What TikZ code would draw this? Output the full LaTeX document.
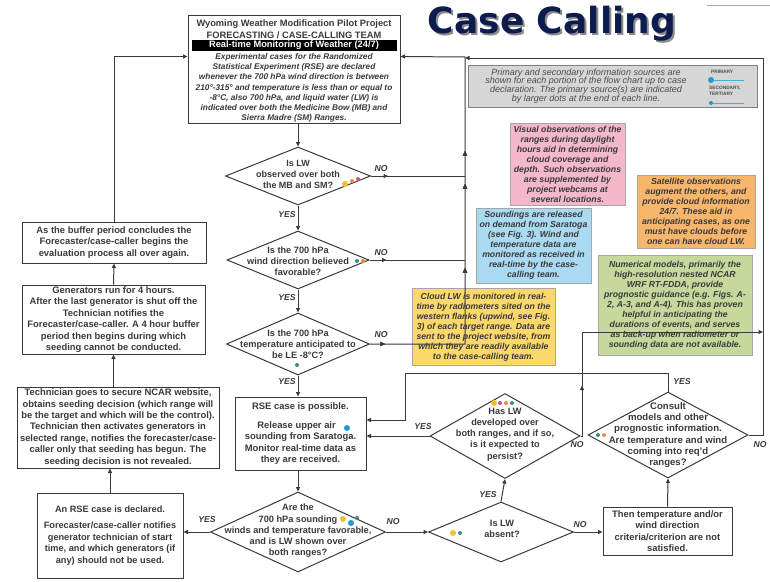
\documentclass[tikz,border=0pt]{standalone}
\usepackage{fontspec}
\setmainfont{Liberation Sans}
\newfontfamily\titlefont{DejaVu Sans}
\usetikzlibrary{shapes.geometric,arrows.meta,calc,decorations.markings}
\pgfdeclarelayer{bg}
\pgfsetlayers{bg,main}
\definecolor{ink}{HTML}{3A3A3A}
\definecolor{navy}{HTML}{0D1C4E}
\definecolor{lpink}{HTML}{D94C86}
\definecolor{lyel}{HTML}{EFD766}
\definecolor{dyel}{HTML}{F2C12E}
\definecolor{lora}{HTML}{E3A36E}
\definecolor{dora}{HTML}{EE8A3A}
\definecolor{lblu}{HTML}{45AEDB}
\definecolor{dblu}{HTML}{1E9AD6}
\definecolor{lgrn}{HTML}{6E9E98}
\definecolor{dgrn}{HTML}{3C8C80}
\definecolor{fpink}{HTML}{F4B8CB}
\definecolor{fblu}{HTML}{A9DAF2}
\definecolor{fora}{HTML}{F8B56C}
\definecolor{fgrn}{HTML}{C8D89C}
\definecolor{fyel}{HTML}{FBD86C}
\definecolor{fleg}{HTML}{D6D6D6}
\tikzset{
  every node/.style={font=\fontsize{9.4}{11.4}\selectfont\bfseries, text=ink, align=center, inner sep=0pt},
  flowbox/.style={draw=ink, line width=1pt, fill=white},
  infobox/.style={draw=black!35, line width=0.8pt, font=\fontsize{8.7}{10}\selectfont\bfseries\itshape},
  dia/.style={diamond, draw=ink, line width=1pt},
  dtext/.style={font=\fontsize{9.2}{11.2}\selectfont\bfseries},
  lab/.style={font=\fontsize{8.6}{9}\selectfont\bfseries\itshape},
  tip/.style={-{Triangle[length=4.5pt,width=4pt]}},
  flow/.style={draw=ink, line width=1pt},
  midarrow/.style={postaction={decorate}, decoration={markings, mark=at position #1 with {\arrow{Triangle[length=4.5pt,width=4pt]}}}},
  src/.style={line width=0.9pt},
  bigdot/.style={circle, fill=#1, minimum size=6pt},
  smalldot/.style={circle, fill=#1, minimum size=4pt}
}
\begin{document}
\begin{tikzpicture}[x=1pt,y=-1pt]
\useasboundingbox (0,0) rectangle (770,581);
\fill[white] (0,0) rectangle (770,581);

% title
\draw[black!35, line width=0.8pt] (707,5) -- (770,5);
\node[font=\titlefont\bfseries\fontsize{36}{36}\selectfont, text=black!45, anchor=base] (ttlsh) at (554,35) {Case Calling};
\node[font=\titlefont\bfseries\fontsize{36}{36}\selectfont, text=navy, anchor=base] (ttl) at (552,33) {Case Calling};

% header
\node[flowbox, minimum width=212pt, minimum height=108pt] (hdr) at (294,69) {};
\node[font=\fontsize{9.3}{10}\selectfont\bfseries] (h1) at (294,24.5) {Wyoming Weather Modification Pilot Project};
\node[font=\fontsize{9.3}{10}\selectfont\bfseries] (h2) at (294,35) {FORECASTING / CASE-CALLING TEAM};
\node[fill=black, text=white, minimum width=205pt, minimum height=10.5pt, font=\fontsize{9.3}{10}\selectfont\bfseries] (h3) at (294,45.5) {Real-time Monitoring of Weather (24/7)};
\node[font=\fontsize{8.3}{10.2}\selectfont\bfseries\itshape] (h4) at (294,88) {Experimental cases for the Randomized\\Statistical Experiment (RSE) are declared\\whenever the 700 hPa wind direction is between\\210°-315° and temperature is less than or equal to\\-8°C, also 700 hPa, and liquid water (LW) is\\indicated over both the Medicine Bow (MB) and\\Sierra Madre (SM) Ranges.};

% legend
\node[draw=black!50, fill=fleg, line width=0.8pt, minimum width=289pt, minimum height=42pt] (leg) at (612.5,86) {};
\node[font=\fontsize{9}{8.8}\selectfont\itshape, text=black!70] (legt) at (586,86) {Primary and secondary information sources are\\shown for each portion of the flow chart up to case\\declaration.  The primary source(s) are indicated\\by larger dots at the end of each line.};
\node[font=\fontsize{4.8}{5.6}\selectfont\bfseries, text=black!70, anchor=west] (lp) at (711,72) {PRIMARY};
\node[font=\fontsize{4.8}{5.8}\selectfont\bfseries, text=black!70, anchor=west, align=left] (ls) at (709,91) {SECONDARY,\\TERTIARY};
\node[bigdot=dblu] (lpd) at (711,80) {};
\node[smalldot=dblu] (lsd) at (711,103) {};
\draw[lblu, line width=0.9pt] (lpd) -- (744,80);
\draw[lblu, line width=0.9pt] (lsd) -- (744,103);

% dots coordinates
\coordinate (a1y) at (345,184);
\coordinate (a1o) at (352,181);
\coordinate (a1p) at (358,179);
\coordinate (a2g) at (357,261);
\coordinate (a2o) at (363,261);
\coordinate (a3g) at (297,365);
\coordinate (arb) at (347,428);
\coordinate (a4y) at (343,519);
\coordinate (a4b) at (351,523);
\coordinate (a4g) at (357,518);
\coordinate (a5y) at (494,403);
\coordinate (a5p) at (500,403);
\coordinate (a5o) at (506,403);
\coordinate (a5g) at (512,403);
\coordinate (a6y) at (453,533);
\coordinate (a6g) at (460,533);
\coordinate (a7g) at (598,435);
\coordinate (a7o) at (604,435);

% source-line ends inside boxes
\coordinate (pkA) at (530,195);
\coordinate (pkB) at (522,200);
\coordinate (orA) at (660,244);
\coordinate (grA) at (625,315);
\coordinate (blA) at (490,276);
\coordinate (ylA) at (420,304);
\coordinate (ylB) at (440,358);

% source lines (behind)
\begin{pgfonlayer}{bg}
\draw[src, lpink] (a1p) -- (pkA);
\draw[src, lpink] (a5p) -- (pkB);
\draw[src, lyel] (a1y) -- (ylA);
\draw[src, lyel] (a4y) -- (ylB);
\draw[src, lyel] (a5y) -- (ylB);
\draw[src, lyel] (a6y) -- (ylB);
\draw[src, lora] (a1o) -- (orA);
\draw[src, lora] (a2o) -- (orA);
\draw[src, lora] (a5o) -- (orA);
\draw[src, lora] (a7o) -- (orA);
\draw[src, lgrn] (a2g) -- (grA);
\draw[src, lgrn] (a3g) -- (grA);
\draw[src, lgrn] (a4g) -- (grA);
\draw[src, lgrn] (a5g) -- (grA);
\draw[src, lgrn] (a6g) -- (grA);
\draw[src, lgrn] (a7g) -- (grA);
\draw[src, lblu] (arb) -- (blA);
\draw[src, lblu] (a4b) -- (blA);
\end{pgfonlayer}

% info boxes
\node[infobox, fill=fpink, minimum width=115pt, minimum height=82pt] (pink) at (567.5,164) {Visual observations of the\\ranges during daylight\\hours aid in determining\\cloud coverage and\\depth. Such observations\\are supplemented by\\project webcams at\\several locations.};
\node[infobox, fill=fblu, minimum width=115pt, minimum height=75pt] (blue) at (533.5,245.5) {Soundings are released\\on demand from Saratoga\\(see Fig. 3).  Wind and\\temperature data are\\monitored as received in\\real-time by the case-\\calling team.};
\node[infobox, fill=fora, minimum width=118pt, minimum height=73pt] (orng) at (696,211.5) {Satellite observations\\augment the others, and\\provide cloud information\\24/7.  These aid in\\anticipating cases, as one\\must have clouds before\\one can have cloud LW.};
\node[infobox, fill=fgrn, minimum width=154pt, minimum height=100pt] (grn) at (675,305) {Numerical models, primarily the\\high-resolution nested NCAR\\WRF RT-FDDA, provide\\prognostic guidance (e.g. Figs. A-\\2, A-3, and A-4).  This has proven\\helpful in anticipating the\\durations of events, and serves\\as back-up when radiometer or\\sounding data are not available.};
\node[infobox, fill=fyel, minimum width=143pt, minimum height=77pt] (yel) at (483.5,327) {Cloud LW is monitored in real-\\time by radiometers sited on the\\western flanks (upwind, see Fig.\\3) of each target range.  Data are\\sent to the project website, from\\which they are readily available\\to the case-calling team.};

% decisions
\node[dia, minimum width=145pt, minimum height=58pt] (d1) at (298,176) {};
\node[font=\fontsize{9}{11}\selectfont\bfseries] (d1t) at (298,174) {Is LW\\observed over both\\the MB and SM?};
\node[dia, minimum width=142pt, minimum height=58pt] (d2) at (298,260) {};
\node[dtext] (d2t) at (298,261) {Is the 700 hPa\\wind direction believed\\favorable?};
\node[dia, minimum width=143pt, minimum height=62pt] (d3) at (298,344) {};
\node[dtext] (d3t) at (298,344) {Is the 700 hPa\\temperature anticipated to\\be LE -8°C?};
\node[dia, minimum width=175pt, minimum height=80pt] (d4) at (298,532) {};
\node[dtext] (d4t) at (298,531) {Are the\\700 hPa sounding\\winds and temperature favorable,\\and is LW shown over\\both ranges?};
\node[dia, minimum width=150pt, minimum height=85pt] (d5) at (505,436) {};
\node[dtext] (d5t) at (505,434.5) {Has LW\\developed over\\both ranges, and if so,\\is it expected to\\persist?};
\node[dia, minimum width=145pt, minimum height=60pt] (d6) at (501,532) {};
\node[dtext] (d6t) at (502,529) {Is LW\\absent?};
\node[dia, minimum width=160pt, minimum height=86pt] (d7) at (668,435) {};
\node[font=\fontsize{9.6}{11.2}\selectfont\bfseries] (d7t) at (668,435) {Consult\\models and other\\prognostic information.\\Are temperature and wind\\coming into req'd\\ranges?};

% process boxes
\node[flowbox, minimum width=184pt, minimum height=41pt] (buf) at (114,242.5) {As the buffer period concludes the\\Forecaster/case-caller begins the\\evaluation process all over again.};
\node[flowbox, minimum width=183pt, minimum height=69pt] (gen) at (113.5,319.5) {Generators run for 4 hours.\\After the last generator is shut off the\\Technician notifies the\\Forecaster/case-caller.  A 4 hour buffer\\period then begins during which\\seeding cannot be conducted.};
\node[flowbox, minimum width=202pt, minimum height=81pt] (tech) at (118,427.5) {Technician goes to secure NCAR website,\\obtains seeding decision (which range will\\be the target and which will be the control).\\Technician then activates generators in\\selected range, notifies the forecaster/case-\\caller only that seeding has begun. The\\seeding decision is not revealed.};
\node[flowbox, minimum width=146pt, minimum height=85pt, font=\fontsize{9.2}{11.6}\selectfont\bfseries] (decl) at (110,535.5) {An RSE case is declared.\\[5pt]Forecaster/case-caller notifies\\generator technician of start\\time, and which generators (if\\any) should not be used.};
\node[flowbox, minimum width=131pt, minimum height=73pt] (rse) at (300.5,433.5) {RSE case is possible.\\[8pt]Release upper air \phantom{x}\\sounding from Saratoga.\\Monitor real-time data as\\they are received.};
\node[flowbox, minimum width=129pt, minimum height=48pt] (then) at (667.5,531) {Then temperature and/or\\wind direction\\criteria/criterion are not\\satisfied.};

% dots
\node[bigdot=dyel] (n1y) at (a1y) {};
\node[smalldot=dora] (n1o) at (a1o) {};
\node[smalldot=lpink] (n1p) at (a1p) {};
\node[smalldot=dgrn] (n2g) at (a2g) {};
\node[smalldot=dora] (n2o) at (a2o) {};
\node[smalldot=dgrn] (n3g) at (a3g) {};
\node[bigdot=dblu] (nrb) at (arb) {};
\node[bigdot=dyel] (n4y) at (a4y) {};
\node[bigdot=dblu] (n4b) at (a4b) {};
\node[smalldot=dgrn] (n4g) at (a4g) {};
\node[bigdot=dyel] (n5y) at (a5y) {};
\node[smalldot=lpink] (n5p) at (a5p) {};
\node[smalldot=dora] (n5o) at (a5o) {};
\node[smalldot=dgrn] (n5g) at (a5g) {};
\node[bigdot=dyel] (n6y) at (a6y) {};
\node[smalldot=dgrn] (n6g) at (a6g) {};
\node[smalldot=dgrn] (n7g) at (a7g) {};
\node[smalldot=dora] (n7o) at (a7o) {};

% main flow connectors
\draw[flow, tip] (hdr.south -| d1.north) -- (d1.north);
\draw[flow, tip] (d1.south) -- (d2.north);
\draw[flow, tip] (d2.south) -- (d3.north);
\draw[flow, tip] (d3.south) -- (d3.south |- rse.north);
\draw[flow, tip] (rse.south -| d4.north) -- (d4.north);
\draw[flow, tip] (d4.west) -- (decl.east |- d4.west);
\draw[flow, tip] (decl.north) -- (decl.north |- tech.south);
\draw[flow, tip] (tech.north -| gen.south) -- (gen.south);
\draw[flow, tip] (gen.north) -- (buf.south);
\draw[flow, tip] (buf.north) |- ($(hdr.north west)+(0,42)$);
% NO returns to monitoring
\draw[flow, midarrow=17pt] (d1.east) -- (465,176);
\draw[flow, midarrow=17pt] (d2.east) -- (465,260);
\draw[flow, tip, midarrow=15pt, midarrow=171pt, midarrow=255pt, midarrow=288pt] (d3.east) -- (465,344) -- (465,57) -- ($(hdr.north east)+(0,42)$);
% bottom row
\draw[flow, tip] (d4.east) -- (d6.west);
\draw[flow, tip] (d6.north) -- (d5.south);
\draw[flow, tip] (d6.east) -- (then.west |- d6.east);
\draw[flow, tip] (then.north) -- (d7.south);
\draw[flow, tip] (d5.west) -- (rse.east |- d5.west);
\draw[flow, tip] (d7.north) -- (668,373) -- (405,373) -- (405,420) -- (rse.east |- 0,420);
\draw[flow, midarrow=52pt] (d5.east) -- (582,436) -- (582,332) -- (757,332);
\draw[flow, tip] (582,332) -- (763,332);
\draw[flow, tip] (d7.east) -- (763,435) -- (763,58) -- (465,58);

% labels
\node[lab] (l1) at (381,169) {NO};
\node[lab] (l2) at (381,253) {NO};
\node[lab] (l3) at (381,335) {NO};
\node[lab] (l4) at (287,215) {YES};
\node[lab] (l5) at (287,298) {YES};
\node[lab] (l6) at (287,382) {YES};
\node[lab] (l7) at (207,520) {YES};
\node[lab] (l8) at (393,522) {NO};
\node[lab] (l9) at (423,427) {YES};
\node[lab] (l10) at (488,495) {YES};
\node[lab] (l11) at (577,445) {NO};
\node[lab] (l12) at (580,525) {NO};
\node[lab] (l13) at (682,382) {YES};
\node[lab] (l14) at (760,445) {NO};
\end{tikzpicture}
\end{document}
